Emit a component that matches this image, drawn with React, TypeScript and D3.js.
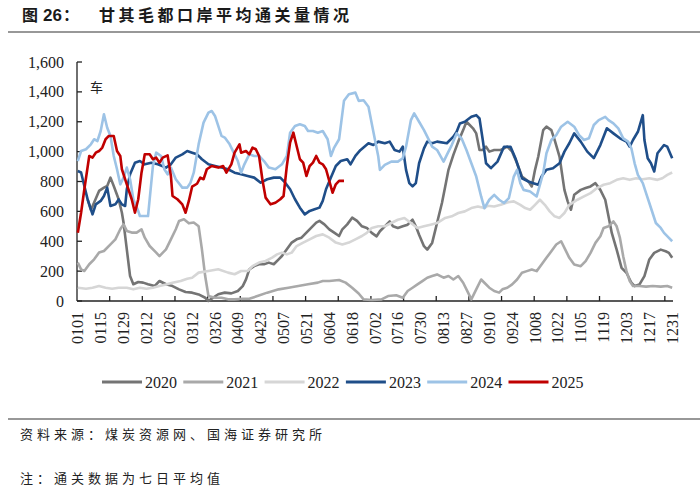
import React from 'react';
import * as d3 from 'd3';

type Pt = [number, number];

// day index (0 = 0101 ... 364 = 1231), vehicles per day (7-day avg)
const s2020: Pt[] = [[6,680],[8,610],[10,660],[13,737],[16,759],[18,770],[20,826],[22,770],[25,681],[27,591],[28,525],[30,346],[32,167],[34,112],[37,127],[40,123],[43,112],[47,100],[50,134],[54,112],[58,100],[62,78],[66,60],[70,56],[74,44],[78,22],[80,0],[82,16],[86,45],[90,56],[94,51],[98,67],[101,100],[103,145],[105,212],[108,234],[111,246],[114,246],[117,257],[120,246],[123,279],[125,301],[128,346],[131,391],[134,413],[137,424],[140,458],[143,491],[146,525],[148,536],[151,513],[154,480],[157,458],[160,435],[162,480],[165,513],[168,558],[171,536],[174,500],[177,489],[180,456],[183,433],[185,467],[188,500],[191,533],[193,500],[196,489],[199,500],[202,511],[205,544],[207,500],[209,444],[212,367],[214,344],[217,389],[219,478],[221,567],[223,656],[225,767],[227,878],[230,978],[233,1067],[236,1144],[238,1200],[240,1178],[242,1156],[244,1122],[246,1011],[248,1011],[250,1033],[252,1000],[255,1011],[259,1011],[263,1033],[266,1000],[269,922],[272,833],[276,800],[278,767],[280,878],[282,967],[285,1144],[287,1167],[290,1144],[292,1078],[295,967],[298,744],[300,667],[302,611],[304,711],[308,744],[311,756],[314,767],[317,789],[320,744],[323,678],[325,567],[327,456],[330,344],[333,222],[336,189],[339,122],[341,100],[344,111],[347,167],[350,278],[353,322],[357,344],[360,333],[362,322],[364,289]];

const s2021: Pt[] = [[0,257],[2,212],[4,201],[7,246],[10,279],[13,324],[16,335],[20,379],[23,413],[26,480],[28,513],[30,469],[33,458],[36,458],[39,480],[41,424],[44,368],[48,324],[50,301],[54,346],[57,413],[60,480],[62,536],[65,547],[68,520],[71,525],[74,500],[76,346],[78,167],[80,33],[84,22],[88,22],[92,11],[96,11],[101,15],[105,15],[110,33],[116,56],[123,78],[129,89],[135,100],[141,112],[147,123],[150,134],[154,134],[160,141],[164,123],[168,89],[172,50],[175,11],[180,7],[186,11],[190,33],[195,38],[199,22],[202,67],[205,89],[208,111],[211,133],[214,156],[217,167],[220,178],[224,156],[227,167],[230,144],[233,167],[236,122],[239,56],[241,11],[244,78],[247,144],[249,122],[252,89],[255,67],[258,56],[260,78],[263,89],[266,111],[269,144],[272,189],[275,200],[278,211],[281,200],[284,244],[287,289],[290,333],[293,378],[296,400],[298,356],[301,289],[304,244],[308,233],[311,267],[314,322],[317,389],[320,433],[322,489],[325,500],[328,533],[330,500],[332,422],[334,300],[336,200],[338,133],[340,100],[344,100],[348,96],[352,100],[357,96],[361,100],[364,89]];

const s2022: Pt[] = [[0,89],[5,82],[9,89],[13,100],[17,89],[21,82],[25,89],[30,89],[34,78],[38,89],[42,82],[46,89],[50,100],[54,111],[58,122],[63,134],[67,149],[70,156],[74,190],[80,201],[86,212],[92,190],[96,179],[100,201],[104,201],[107,234],[111,257],[115,268],[119,290],[122,312],[125,324],[128,312],[131,324],[134,368],[138,391],[142,413],[146,435],[150,446],[154,424],[158,391],[162,379],[166,391],[170,413],[174,435],[177,456],[180,489],[184,500],[188,500],[192,522],[196,544],[200,556],[204,522],[208,489],[212,500],[216,511],[220,522],[225,556],[229,567],[233,589],[237,600],[241,622],[245,633],[249,622],[251,638],[255,633],[259,644],[263,660],[267,667],[271,644],[274,622],[277,611],[280,644],[283,678],[286,644],[289,600],[292,567],[295,556],[298,589],[301,644],[306,678],[310,700],[314,722],[318,756],[322,778],[326,789],[330,811],[334,822],[338,811],[342,822],[346,815],[350,822],[355,811],[358,822],[361,844],[364,860]];

const s2023: Pt[] = [[0,870],[2,860],[4,770],[6,680],[9,580],[11,647],[14,670],[16,703],[18,759],[20,636],[23,647],[25,680],[27,647],[29,636],[30,748],[32,848],[35,926],[38,937],[41,915],[45,926],[49,915],[54,893],[57,915],[60,960],[64,982],[67,1004],[70,993],[73,982],[76,949],[80,915],[84,904],[88,893],[92,882],[96,859],[100,848],[104,837],[108,826],[112,792],[116,815],[120,826],[124,826],[127,792],[130,748],[133,681],[136,625],[139,580],[142,603],[145,614],[148,625],[150,670],[152,748],[155,826],[158,904],[161,937],[165,949],[167,915],[170,971],[173,1010],[178,1056],[181,1044],[184,1067],[188,1056],[191,1067],[194,1011],[197,1000],[199,1033],[201,878],[203,789],[205,767],[207,789],[209,922],[212,1022],[214,1067],[217,1056],[220,1067],[226,1056],[230,1100],[232,1133],[234,1189],[237,1200],[241,1233],[244,1244],[246,1222],[248,1078],[250,922],[253,889],[257,933],[261,1033],[265,1033],[268,956],[272,822],[276,800],[279,789],[282,778],[284,833],[287,878],[291,889],[295,922],[298,1000],[301,1056],[304,1122],[308,1067],[312,1000],[316,956],[320,1044],[324,1156],[328,1122],[332,1089],[336,1067],[338,1033],[340,1078],[343,1133],[346,1244],[347,1078],[349,956],[351,922],[353,867],[355,989],[359,1044],[361,1033],[364,956]];

const s2024: Pt[] = [[0,937],[2,1004],[5,1016],[8,1049],[10,1083],[12,1071],[14,1138],[16,1250],[18,1160],[20,1105],[22,971],[24,882],[26,781],[28,826],[30,893],[32,815],[34,681],[37,603],[38,569],[43,569],[44,681],[46,904],[48,993],[51,971],[53,882],[55,848],[57,893],[60,815],[64,759],[67,759],[69,792],[71,859],[74,1050],[77,1194],[80,1261],[82,1272],[84,1239],[86,1172],[88,1105],[90,1094],[93,1049],[96,982],[98,937],[100,859],[102,915],[105,982],[108,971],[111,971],[114,937],[117,893],[121,882],[125,915],[128,971],[130,1127],[133,1172],[136,1183],[139,1172],[141,1138],[144,1138],[147,1127],[150,1138],[153,1083],[155,971],[157,1027],[160,1083],[163,1340],[166,1384],[170,1395],[172,1340],[175,1344],[178,1300],[180,1189],[182,1078],[184,967],[185,878],[188,911],[192,933],[196,933],[199,956],[201,1033],[204,1211],[206,1256],[209,1200],[212,1144],[214,1100],[217,1033],[220,1011],[224,933],[226,978],[229,1044],[232,1122],[235,1089],[238,1011],[241,922],[244,833],[247,700],[249,622],[252,678],[255,711],[258,678],[261,656],[264,689],[267,833],[269,878],[271,789],[273,744],[277,733],[281,700],[285,856],[287,989],[290,1078],[293,1111],[296,1167],[300,1200],[304,1167],[307,1111],[310,1078],[313,1089],[316,1178],[319,1211],[323,1233],[325,1211],[328,1189],[331,1156],[334,1089],[337,1067],[339,1022],[341,922],[343,844],[346,789],[348,722],[350,656],[352,589],[354,522],[357,489],[359,456],[362,422],[364,400]];

const s2025: Pt[] = [[0,457],[2,591],[4,748],[7,971],[9,960],[11,993],[13,1004],[15,1027],[17,1083],[19,1105],[22,1105],[24,1004],[26,971],[27,882],[30,781],[33,681],[35,591],[37,681],[39,859],[41,982],[44,982],[46,949],[48,960],[50,926],[52,960],[55,975],[57,837],[58,703],[61,681],[64,647],[66,591],[68,670],[70,765],[73,785],[75,826],[77,815],[79,882],[82,904],[86,893],[89,904],[91,859],[94,915],[96,993],[99,1049],[100,993],[103,1004],[105,982],[107,1027],[109,1016],[111,971],[113,815],[115,692],[118,647],[121,658],[124,681],[126,703],[128,904],[130,1060],[132,1127],[134,1038],[136,949],[138,926],[140,837],[142,904],[144,926],[146,971],[148,926],[150,915],[152,882],[154,804],[156,725],[158,781],[160,804],[163,804]];

const seriesNames = ['2020', '2021', '2022', '2023', '2024', '2025'];
const seriesData = [s2020, s2021, s2022, s2023, s2024, s2025];
const seriesColors = ['#747474', '#a9a9a9', '#d6d6d6', '#1f4e89', '#9dc3e6', '#c00000'];

const xLabels = ['0101','0115','0129','0212','0226','0312','0326','0409','0423','0507','0521','0604','0618','0702','0716','0730','0813','0827','0910','0924','1008','1022','1105','1119','1203','1217','1231'];
const yTicks = [0, 200, 400, 600, 800, 1000, 1200, 1400, 1600];

const serif = '"Liberation Serif", "Times New Roman", serif';
const cjk = '"Noto Sans CJK SC", sans-serif';

export default function App() {
  const left = 77;
  const right = 673;
  const top = 62;
  const bottom = 301;

  const x = d3.scaleLinear().domain([-0.5, 364.5]).range([left, right]);
  const y = d3.scaleLinear().domain([0, 1600]).range([bottom, top]);
  const line = d3
    .line<Pt>()
    .x((d) => x(d[0]))
    .y((d) => y(d[1]));

  const fmt = d3.format(',');
  // tick marks every 20 days, labels every 14 days
  const tickDays = d3.range(20, 361, 20).map((d) => d - 0.5);

  return (
    <svg width={700} height={486} style={{ position: 'absolute', left: 0, top: 0, background: '#fff' }}>
      <text x={22} y={21} fontFamily={cjk} fontWeight="bold" fontSize={16} fill="#1a1a1a">
        图
      </text>
      <text x={43} y={21} fontFamily='"Liberation Sans", Arial, sans-serif' fontWeight="bold" fontSize={17} fill="#1a1a1a">
        26
      </text>
      <text x={63} y={21} fontFamily={cjk} fontWeight="bold" fontSize={16} fill="#1a1a1a">
        ：
      </text>
      <text x={99} y={21} fontFamily={cjk} fontWeight="bold" fontSize={16} letterSpacing={3.5} fill="#1a1a1a">
        甘其毛都口岸平均通关量情况
      </text>
      <line x1={8} x2={700} y1={32} y2={32} stroke="#333" strokeWidth={1.2} />

      {/* y axis */}
      <line x1={left} x2={left} y1={top} y2={bottom} stroke="#222" strokeWidth={1.3} />
      {yTicks.map((t) => (
        <g key={t}>
          <line x1={left} x2={left + 5} y1={y(t)} y2={y(t)} stroke="#222" strokeWidth={1.3} />
          <text x={64} y={y(t)} dy="0.35em" textAnchor="end" fontFamily={serif} fontSize={16} fill="#222">
            {fmt(t)}
          </text>
        </g>
      ))}
      <text x={90} y={92} fontFamily={cjk} fontSize={13} fill="#222">
        车
      </text>

      {/* x axis */}
      <line x1={left} x2={right} y1={bottom} y2={bottom} stroke="#222" strokeWidth={1.3} />
      {tickDays.map((d) => (
        <line key={d} x1={x(d)} x2={x(d)} y1={bottom} y2={bottom - 5} stroke="#222" strokeWidth={1.3} />
      ))}
      {xLabels.map((lab, i) => {
        const px = x(i * 14);
        return (
          <text
            key={lab}
            transform={`translate(${px},312) rotate(-90)`}
            dy="0.35em"
            textAnchor="end"
            fontFamily={serif}
            fontSize={16}
            fill="#222"
          >
            {lab}
          </text>
        );
      })}

      {/* series */}
      {seriesData.map((s, i) => (
        <path
          key={seriesNames[i]}
          d={line(s) || ''}
          fill="none"
          stroke={seriesColors[i]}
          strokeWidth={2.6}
          strokeLinejoin="round"
        />
      ))}

      {/* legend */}
      {seriesNames.map((n, i) => {
        const lx = 102 + i * 81.3;
        return (
          <g key={n}>
            <line x1={lx} x2={lx + 40} y1={382} y2={382} stroke={seriesColors[i]} strokeWidth={3} />
            <text x={lx + 43} y={382} dy="0.35em" fontFamily={serif} fontSize={16} fill="#222">
              {n}
            </text>
          </g>
        );
      })}

      <line x1={8} x2={700} y1={419} y2={419} stroke="#333" strokeWidth={1.2} />
      <text x={20} y={439} fontFamily={cjk} fontSize={13} letterSpacing={4} fill="#222">
        资料来源：煤炭资源网、国海证券研究所
      </text>
      <text x={20} y={483} fontFamily={cjk} fontSize={13} letterSpacing={4} fill="#222">
        注：通关数据为七日平均值
      </text>
    </svg>
  );
}
